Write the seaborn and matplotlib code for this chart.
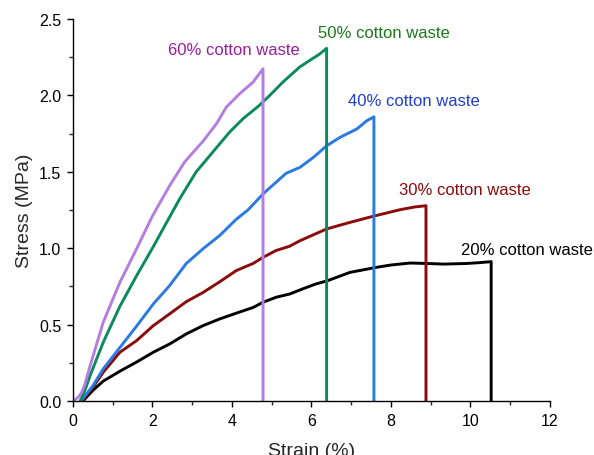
import numpy as np
import pandas as pd
import matplotlib
matplotlib.use("Agg")
import matplotlib.pyplot as plt
import seaborn as sns
from matplotlib.ticker import MultipleLocator

# ---- data ----
black_x = [0.25, 0.5, 0.76, 1.18, 1.6, 2.02, 2.43, 2.85, 3.27, 3.69, 4.11, 4.53, 4.78, 5.11, 5.45,
           5.78, 6.1, 6.4, 6.97, 7.64, 8.0, 8.48, 8.9, 9.32, 9.9, 10.2, 10.52, 10.52]
black_y = [0, 0.07, 0.13, 0.195, 0.255, 0.319, 0.373, 0.439, 0.493, 0.537, 0.575, 0.612, 0.646, 0.679,
           0.70, 0.734, 0.765, 0.787, 0.842, 0.875, 0.89, 0.903, 0.90, 0.896, 0.90, 0.905, 0.912, 0]

red_x = [0.22, 0.5, 0.76, 1.18, 1.6, 2.02, 2.43, 2.85, 3.27, 3.69, 4.11, 4.53, 4.78, 5.11, 5.45,
         5.71, 6.38, 6.97, 7.55, 8.23, 8.6, 8.88, 8.88]
red_y = [0, 0.09, 0.188, 0.319, 0.395, 0.493, 0.57, 0.65, 0.71, 0.78, 0.854, 0.90, 0.94, 0.985, 1.013,
         1.049, 1.126, 1.169, 1.209, 1.252, 1.27, 1.278, 0]

blue_x = [0.2, 0.5, 0.76, 1.18, 1.6, 2.02, 2.43, 2.85, 3.27, 3.69, 4.11, 4.40, 4.78, 5.36, 5.71,
          6.05, 6.38, 6.72, 7.14, 7.39, 7.57, 7.57]
blue_y = [0, 0.1, 0.21, 0.35, 0.49, 0.635, 0.755, 0.90, 0.996, 1.083, 1.19, 1.25, 1.355, 1.49, 1.529,
          1.595, 1.67, 1.726, 1.78, 1.834, 1.86, 0]

green_x = [0.18, 0.3, 0.43, 0.76, 1.18, 1.6, 2.02, 2.4, 2.69, 3.10, 3.52, 3.94, 4.28, 4.69, 4.95,
           5.28, 5.70, 5.95, 6.2, 6.38, 6.38]
green_y = [0, 0.07, 0.166, 0.384, 0.62, 0.82, 1.01, 1.19, 1.326, 1.50, 1.63, 1.76, 1.848, 1.935, 2.0,
           2.087, 2.185, 2.228, 2.27, 2.308, 0]

purple_x = [0, 0.13, 0.22, 0.3, 0.43, 0.76, 1.18, 1.6, 1.97, 2.1, 2.44, 2.81, 3.27, 3.61, 3.86,
            4.19, 4.53, 4.78, 4.78]
purple_y = [0, 0.024, 0.057, 0.11, 0.23, 0.515, 0.777, 0.996, 1.196, 1.258, 1.413, 1.565, 1.70,
            1.815, 1.924, 2.01, 2.087, 2.174, 0]

series = ["20% cotton waste", "30% cotton waste", "40% cotton waste",
          "50% cotton waste", "60% cotton waste"]
line_colors = ["#000000", "#8B0A0A", "#2A7AE2", "#0A8A5E", "#B47EE0"]
text_colors = ["#000000", "#8B0A0A", "#1F3FCF", "#1A7A1A", "#9B1D9B"]
label_x = [11.42, 9.86, 8.58, 7.83, 4.05]
label_y = [0.99, 1.383, 1.965, 2.41, 2.30]

xs = [black_x, red_x, blue_x, green_x, purple_x]
ys = [black_y, red_y, blue_y, green_y, purple_y]

frames = []
for name, x, y in zip(series, xs, ys):
    frames.append(pd.DataFrame({"strain": x, "stress": y, "sample": name,
                                "order": np.arange(len(x))}))
df = pd.concat(frames, ignore_index=True)

# ---- plotting ----
sns.set_style("ticks")
plt.rcParams["font.family"] = ["Liberation Sans", "DejaVu Sans"]

fig = plt.figure(figsize=(5.94, 4.56), dpi=100)
ax = fig.add_axes([73 / 594, 1 - 402 / 456, 477 / 594, 382 / 456])

sns.lineplot(data=df, x="strain", y="stress", hue="sample", units="sample",
             palette=dict(zip(series, line_colors)), sort=False, estimator=None,
             legend=False, linewidth=2.1, ax=ax)

for name, lx, ly, c in zip(series, label_x, label_y, text_colors):
    ax.text(lx, ly, name, color=c, fontsize=12, ha="center", va="center", clip_on=False)

ax.set_xlim(0, 12)
ax.set_ylim(0, 2.5)
ax.xaxis.set_major_locator(MultipleLocator(2))
ax.xaxis.set_minor_locator(MultipleLocator(1))
ax.yaxis.set_major_locator(MultipleLocator(0.5))
ax.yaxis.set_minor_locator(MultipleLocator(0.25))
ax.yaxis.set_major_formatter(matplotlib.ticker.FormatStrFormatter("%.1f"))
ax.tick_params(which="major", direction="out", length=4.5, width=1, labelsize=11.5,
               colors="black", pad=4)
ax.tick_params(which="minor", direction="out", length=3, width=1)
for s in ["top", "right"]:
    ax.spines[s].set_visible(False)
for s in ["left", "bottom"]:
    ax.spines[s].set_linewidth(1.0)
    ax.spines[s].set_color("black")

ax.set_xlabel("Strain (%)", fontsize=14, labelpad=10)
ax.set_ylabel("Stress (MPa)", fontsize=14, labelpad=4)

fig.savefig("out.png", dpi=100)
